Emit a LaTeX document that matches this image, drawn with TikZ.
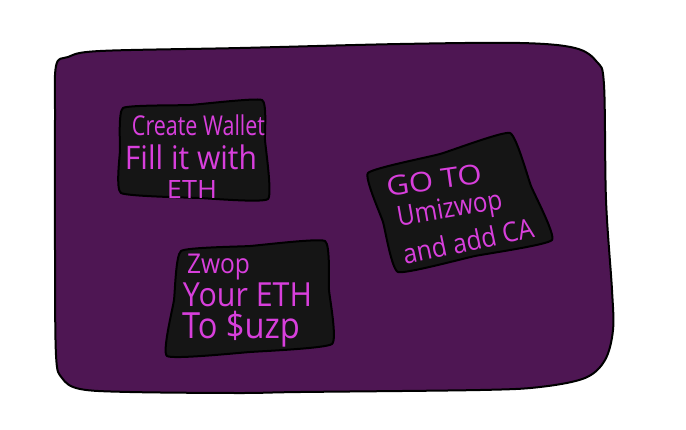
\documentclass[tikz,border=0pt]{standalone}
\usepackage{fontspec}
\setmainfont{Open Sans}
\definecolor{bgpurple}{HTML}{4E1653}
\definecolor{boxblack}{HTML}{151515}
\definecolor{inkpink}{HTML}{D83FDC}
\tikzset{
  outer/.style={fill=bgpurple, draw=black, line width=2pt, line join=round},
  card/.style={fill=boxblack, draw=black, line width=2pt, line join=round},
  hand/.style={text=inkpink, inner sep=0pt, font=\fontsize{20}{24}\selectfont},
}
% width, total height, text
\newcommand{\hwtext}[3]{\resizebox*{#1pt}{#2pt}{#3}}
\begin{document}
\begin{tikzpicture}[x=1pt,y=-1pt]
\useasboundingbox (0,0) rectangle (686,429);
% outer purple panel
\draw[outer] plot[smooth cycle, tension=0.55] coordinates {
  (56,66) (68,57) (100,51) (240,48) (400,44) (520,43) (575,48) (597,62) (604,85)
  (606,200) (612,290) (613,330) (605,360) (585,378) (540,387) (480,390)
  (300,392) (240,393) (130,392) (80,389) (62,378) (56,355) (55,250) (55,120)};
% card 1
\draw[card] plot[smooth cycle, tension=0.25] coordinates {
  (123,108) (190,105) (262,100) (265,140) (268,199) (200,198) (121,193) (120,150)};
% card 2
\draw[card] plot[smooth cycle, tension=0.25] coordinates {
  (368,173) (440,154) (510,133) (531,186) (552,240) (475,256) (398,272) (383,222)};
% card 3
\draw[card] plot[smooth cycle, tension=0.25] coordinates {
  (181,251) (250,246) (325,241) (329,290) (332,344) (250,352) (167,356) (174,300)};
% texts card 1
\node[hand] (t1a) at (198.5,125) {\hwtext{133}{21}{Create Wallet}};
\node[hand] (t1b) at (191,157) {\hwtext{132}{25}{Fill it with}};
\node[hand] (t1c) at (192,189) {\hwtext{50}{18}{ETH}};
% texts card 2
\node[hand, rotate=8] (t2a) at (434,180) {\hwtext{96}{20}{GO TO}};
\node[hand, rotate=10] (t2b) at (450,211) {\hwtext{106}{27}{Umizwop}};
\node[hand, rotate=12] (t2c) at (468,241) {\hwtext{133}{21}{and add CA}};
% texts card 3
\node[hand] (t3a) at (218.5,267) {\hwtext{63}{26}{Zwop}};
\node[hand] (t3b) at (247.5,295) {\hwtext{129}{24}{Your ETH}};
\node[hand] (t3c) at (241,329) {\hwtext{118}{36}{To \$uzp}};
\end{tikzpicture}
\end{document}
